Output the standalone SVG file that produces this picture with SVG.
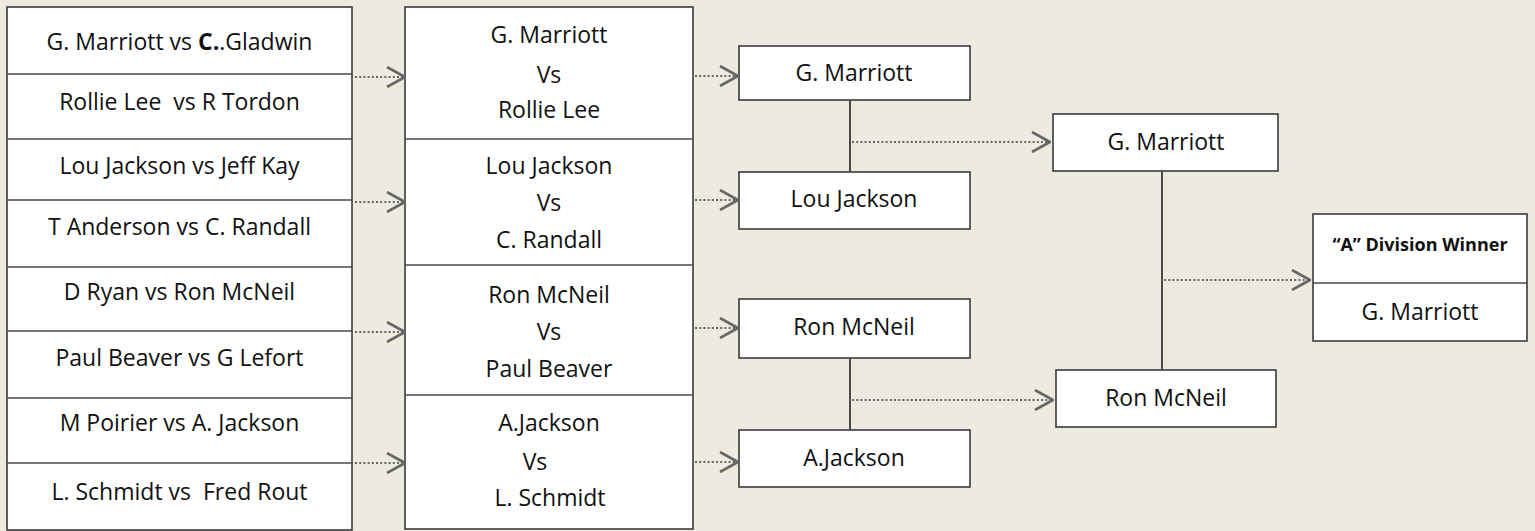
<svg xmlns="http://www.w3.org/2000/svg" width="1535" height="531" viewBox="0 0 1535 531">
<style>
.bx{fill:#ffffff;stroke:#3a3a3a;stroke-width:1.6}
.dv{stroke:#4a4a4a;stroke-width:1.6}
.t{font-family:"Open Sans","Liberation Sans",sans-serif;font-size:23px;fill:#111;text-anchor:middle;white-space:pre}
.tb{font-family:"Open Sans","Liberation Sans",sans-serif;font-size:18px;font-weight:bold;fill:#111;text-anchor:middle}
.ar{stroke:#666;stroke-width:2.2;stroke-dasharray:2 2.2;fill:none;marker-end:url(#chev)}
.vl{stroke:#4a4a4a;stroke-width:2;fill:none}
</style>
<defs>
<marker id="chev" viewBox="0 0 20 22" refX="19" refY="11" markerWidth="20" markerHeight="22" markerUnits="userSpaceOnUse" orient="auto">
<path d="M1,1 L19,11 L1,21" fill="none" stroke="#666" stroke-width="2.6" stroke-dasharray="none"/>
</marker>
</defs>
<rect width="1535" height="531" fill="#edeadf"/>

<g id="round1">
<rect class="bx" x="7" y="7" width="345" height="523"/>
<line class="dv" x1="7" y1="74" x2="352" y2="74"/>
<line class="dv" x1="7" y1="139" x2="352" y2="139"/>
<line class="dv" x1="7" y1="200" x2="352" y2="200"/>
<line class="dv" x1="7" y1="267" x2="352" y2="267"/>
<line class="dv" x1="7" y1="331" x2="352" y2="331"/>
<line class="dv" x1="7" y1="398" x2="352" y2="398"/>
<line class="dv" x1="7" y1="463" x2="352" y2="463"/>
<text class="t" x="179.5" y="50">G. Marriott vs <tspan font-weight="bold">C.</tspan>.Gladwin</text>
<text class="t" x="179.5" y="110" xml:space="preserve">Rollie Lee  vs R Tordon</text>
<text class="t" x="179.5" y="174">Lou Jackson vs Jeff Kay</text>
<text class="t" x="179.5" y="235">T Anderson vs C. Randall</text>
<text class="t" x="179.5" y="300">D Ryan vs Ron McNeil</text>
<text class="t" x="179.5" y="366">Paul Beaver vs G Lefort</text>
<text class="t" x="179.5" y="431">M Poirier vs A. Jackson</text>
<text class="t" x="179.5" y="500" xml:space="preserve">L. Schmidt vs  Fred Rout</text>
</g>

<g id="round2">
<rect class="bx" x="405" y="7" width="288" height="522"/>
<line class="dv" x1="405" y1="139" x2="693" y2="139"/>
<line class="dv" x1="405" y1="265" x2="693" y2="265"/>
<line class="dv" x1="405" y1="395" x2="693" y2="395"/>
<text class="t" x="549" y="43">G. Marriott</text>
<text class="t" x="549" y="83">Vs</text>
<text class="t" x="549" y="118">Rollie Lee</text>
<text class="t" x="549" y="174">Lou Jackson</text>
<text class="t" x="549" y="211">Vs</text>
<text class="t" x="549" y="248">C. Randall</text>
<text class="t" x="549" y="303">Ron McNeil</text>
<text class="t" x="549" y="340">Vs</text>
<text class="t" x="549" y="377">Paul Beaver</text>
<text class="t" x="549" y="431">A.Jackson</text>
<text class="t" x="535" y="470">Vs</text>
<text class="t" x="550" y="506">L. Schmidt</text>
</g>

<g id="r3-marriott"><rect class="bx" x="739" y="46" width="231" height="54"/><text class="t" x="854" y="81">G. Marriott</text></g>
<g id="r3-loujackson"><rect class="bx" x="739" y="172" width="231" height="57"/><text class="t" x="854" y="207">Lou Jackson</text></g>
<g id="r3-mcneil"><rect class="bx" x="739" y="299" width="231" height="59"/><text class="t" x="854" y="335">Ron McNeil</text></g>
<g id="r3-ajackson"><rect class="bx" x="739" y="430" width="231" height="57"/><text class="t" x="854" y="466">A.Jackson</text></g>

<g id="r4-marriott"><rect class="bx" x="1053" y="114" width="225" height="57"/><text class="t" x="1166" y="150">G. Marriott</text></g>
<g id="r4-mcneil"><rect class="bx" x="1056" y="370" width="220" height="57"/><text class="t" x="1166" y="406">Ron McNeil</text></g>

<g id="winner">
<rect class="bx" x="1313" y="214" width="214" height="127"/>
<line class="dv" x1="1313" y1="283" x2="1527" y2="283"/>
<text class="tb" x="1420" y="251">“A” Division Winner</text>
<text class="t" x="1420" y="320">G. Marriott</text>
</g>

<g id="connectors">
<line class="ar" x1="355" y1="77" x2="405" y2="77"/>
<line class="ar" x1="355" y1="202" x2="405" y2="202"/>
<line class="ar" x1="355" y1="332" x2="405" y2="332"/>
<line class="ar" x1="355" y1="463" x2="405" y2="463"/>
<line class="ar" x1="695" y1="76" x2="738" y2="76"/>
<line class="ar" x1="695" y1="200" x2="738" y2="200"/>
<line class="ar" x1="695" y1="328" x2="738" y2="328"/>
<line class="ar" x1="695" y1="462" x2="738" y2="462"/>
<line class="vl" x1="850" y1="100" x2="850" y2="172"/>
<line class="ar" x1="852" y1="142" x2="1050" y2="142"/>
<line class="vl" x1="850" y1="358" x2="850" y2="430"/>
<line class="ar" x1="852" y1="400" x2="1053" y2="400"/>
<line class="vl" x1="1162" y1="171" x2="1162" y2="370"/>
<line class="ar" x1="1164" y1="280" x2="1310" y2="280"/>
</g>
</svg>
